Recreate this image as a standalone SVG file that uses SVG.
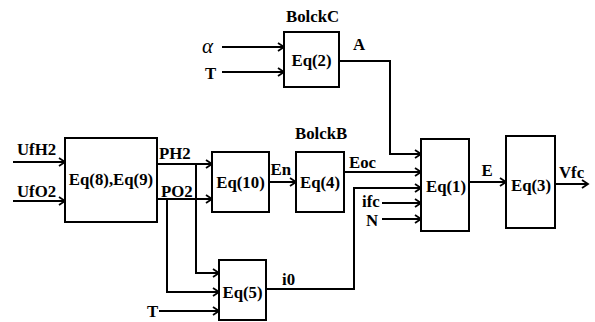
<svg xmlns="http://www.w3.org/2000/svg" width="595" height="322" viewBox="0 0 595 322">
<style>
.box{fill:#fff;stroke:#000;stroke-width:2}
.ln{fill:none;stroke:#000;stroke-width:2;marker-end:url(#ah)}
.c{text-anchor:middle}
</style>
<defs>
<marker id="ah" markerUnits="userSpaceOnUse" markerWidth="10" markerHeight="12" refX="7" refY="5" orient="auto">
<path d="M1,1 L7,5 L1,9" fill="none" stroke="#000" stroke-width="1.8"/>
</marker>
</defs>
<rect width="595" height="322" fill="#fff"/>
<g id="connectors">
<path class="ln" d="M222,47 H284"/>
<path class="ln" d="M222,72 H284"/>
<path class="ln" d="M339,61 H390 V154 H421"/>
<path class="ln" d="M13,162 H65"/>
<path class="ln" d="M13,201 H65"/>
<path class="ln" d="M157,164 H212"/>
<path class="ln" d="M157,199 H212"/>
<path class="ln" d="M196,164 V273 H219"/>
<path class="ln" d="M167,199 V292 H219"/>
<path class="ln" d="M159,311 H219"/>
<path class="ln" d="M269,182 H296"/>
<path class="ln" d="M344,172 H421"/>
<path class="ln" d="M266,289 H354 V188 H421"/>
<path class="ln" d="M382,203 H421"/>
<path class="ln" d="M382,219 H421"/>
<path class="ln" d="M469,182 H506"/>
<path class="ln" d="M555,184 H588"/>
</g>
<g font-family="Liberation Serif, Times New Roman, serif" font-weight="bold" font-size="16.8" fill="#000">
<g id="blockC">
<rect class="box" x="284" y="32" width="55" height="55"/>
<text class="c" x="311.5" y="65.5">Eq(2)</text>
<text x="286" y="22">BolckC</text>
</g>
<g id="eq89">
<rect class="box" x="65" y="138" width="92" height="84"/>
<text class="c" x="111" y="185">Eq(8),Eq(9)</text>
</g>
<g id="eq10">
<rect class="box" x="212" y="152" width="57" height="60"/>
<text class="c" x="240.5" y="187.5">Eq(10)</text>
</g>
<g id="blockB">
<rect class="box" x="296" y="152" width="48" height="60"/>
<text class="c" x="320" y="187.5">Eq(4)</text>
<text x="295" y="139">BolckB</text>
</g>
<g id="eq5">
<rect class="box" x="219" y="260" width="47" height="60"/>
<text class="c" x="242.5" y="298">Eq(5)</text>
</g>
<g id="eq1">
<rect class="box" x="421" y="139" width="48" height="92"/>
<text class="c" x="446" y="191.5">Eq(1)</text>
</g>
<g id="eq3">
<rect class="box" x="506" y="136" width="49" height="92"/>
<text class="c" x="531" y="190.5">Eq(3)</text>
</g>
<g id="labels">
<text x="202" y="53" font-style="italic" font-weight="normal" font-size="21">α</text>
<text x="205" y="79">T</text>
<text x="353" y="50">A</text>
<text x="17" y="155">UfH2</text>
<text x="17" y="197">UfO2</text>
<text x="159" y="159">PH2</text>
<text x="161" y="196.5">PO2</text>
<text x="270.5" y="175">En</text>
<text x="349" y="168">Eoc</text>
<text x="362" y="207">ifc</text>
<text x="366" y="225.5">N</text>
<text x="282" y="285">i0</text>
<text x="147" y="316.5">T</text>
<text x="481.5" y="175.5">E</text>
<text x="559" y="178">Vfc</text>
</g>
</g>
</svg>
